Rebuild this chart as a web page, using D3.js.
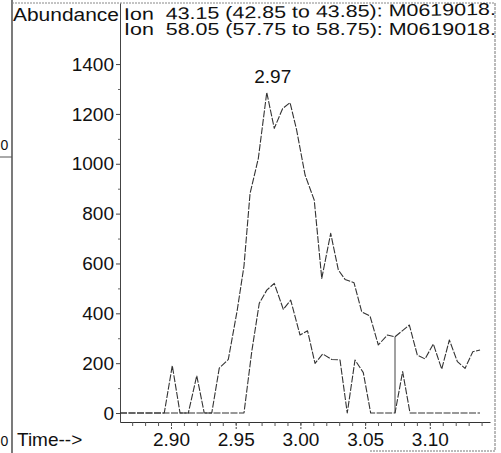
<!DOCTYPE html>
<html>
<head>
<meta charset="utf-8">
<script src="https://cdn.jsdelivr.net/npm/d3@7"></script>
<style>
  html, body { margin: 0; padding: 0; background: #fff; }
  svg { display: block; font-family: "Liberation Sans", Arial, sans-serif; }
  text { white-space: pre; fill: #111; }
</style>
</head>
<body>
<svg id="chart" width="501" height="453"></svg>
<script>
// ---------- data ----------
const seriesNames = ["Ion  43.15 (42.85 to 43.85): M0619018.", "Ion  58.05 (57.75 to 58.75): M0619018."];

const timesA = [2.8606, 2.8948, 2.9010, 2.9070, 2.9134, 2.9199, 2.9257, 2.9315, 2.9373, 2.9443,
                2.9512, 2.9564, 2.9611, 2.9675, 2.9740, 2.9798, 2.9863, 2.9920, 2.9971, 3.0036,
                3.0107, 3.0165, 3.0234, 3.0293, 3.0345, 3.0414, 3.0474, 3.0538, 3.0602, 3.0672,
                3.0731, 3.0842, 3.0903, 3.0963, 3.1027, 3.1092, 3.1151, 3.1213, 3.1272, 3.1332, 3.1388];
const valuesA = [0, 0, 190, 0, 0, 150, 0, 0, 180, 215,
                 413, 590, 881, 1022, 1286, 1142, 1222, 1245, 1135, 955,
                 854, 540, 721, 574, 536, 523, 406, 389, 273, 313,
                 306, 353, 233, 217, 277, 176, 293, 206, 179, 246, 253];

const timesB = [2.8606, 2.9564, 2.9625, 2.9682, 2.9740, 2.9798, 2.9868, 2.9925, 2.9997, 3.0055,
                3.0113, 3.0172, 3.0241, 3.0306, 3.0362, 3.0422, 3.0486, 3.0543, 3.0731, 3.0790,
                3.0847, 3.1388];
const valuesB = [0, 0, 250, 440, 493, 520, 416, 453, 313, 330,
                 199, 237, 215, 213, 0, 213, 162, 0, 0, 166,
                 0, 0];

const markerTimes = [3.0731];
const markerValues = [306];

const yTicks = [0, 200, 400, 600, 800, 1000, 1200, 1400];
const yMinorTicks = d3.range(100, 1500, 200);
const xTicks = [2.90, 2.95, 3.00, 3.05, 3.10];
const xMinorTicks = d3.range(2.87, 3.145, 0.01).map(v => +v.toFixed(2));
const peakTime = 2.9740, peakValue = 1286;

// ---------- scales ----------
const svg = d3.select("#chart");
const x = d3.scaleLinear().domain([2.8606, 3.1465]).range([120, 490]);
const y = d3.scaleLinear().domain([-36, 1645]).range([422, 3]);

// ---------- frame (scan border) ----------
svg.append("rect").attr("width", 501).attr("height", 453).attr("fill", "#fff");
svg.append("line").attr("x1", 12).attr("x2", 12).attr("y1", 0).attr("y2", 453)
   .attr("stroke", "#222").attr("stroke-width", 1.2);
svg.append("line").attr("x1", 12).attr("x2", 495).attr("y1", 3).attr("y2", 3)
   .attr("stroke", "#888").attr("stroke-width", 1).attr("stroke-dasharray", "2,1");
svg.append("line").attr("x1", 495).attr("x2", 495).attr("y1", 3).attr("y2", 451)
   .attr("stroke", "#777").attr("stroke-width", 1).attr("stroke-dasharray", "3,1");
svg.append("line").attr("x1", 370).attr("x2", 495).attr("y1", 451).attr("y2", 451)
   .attr("stroke", "#777").attr("stroke-width", 1).attr("stroke-dasharray", "2,1");
svg.append("line").attr("x1", 0).attr("x2", 12).attr("y1", 157).attr("y2", 157)
   .attr("stroke", "#555").attr("stroke-width", 1);
svg.append("text").attr("x", 0.5).attr("y", 150).attr("font-size", 14).text("0");
svg.append("text").attr("x", 0.5).attr("y", 446).attr("font-size", 14).text("0");

// ---------- axes ----------
const yAxis = svg.append("g").attr("transform", "translate(120,0)")
  .call(d3.axisLeft(y).tickValues(yTicks).tickSize(4).tickSizeOuter(0).tickPadding(2)
        .tickFormat(d3.format("d")));
yAxis.select(".domain").attr("stroke", "#444").attr("stroke-width", 1);
yAxis.selectAll(".tick line").attr("stroke", "#444");
yAxis.selectAll("text").attr("font-size", 19).attr("fill", "#111")
  .attr("font-family", "Liberation Sans, Arial, sans-serif");
svg.append("g").attr("transform", "translate(120,0)")
  .call(d3.axisLeft(y).tickValues(yMinorTicks).tickSize(2).tickFormat(""))
  .call(g => g.select(".domain").remove())
  .selectAll("line").attr("stroke", "#666");

const xAxis = svg.append("g").attr("transform", `translate(0,${y(-36)})`)
  .call(d3.axisBottom(x).tickValues(xTicks).tickSize(7).tickSizeOuter(0).tickPadding(4)
        .tickFormat(d3.format(".2f")));
xAxis.select(".domain").attr("stroke", "#333").attr("stroke-width", 1.2);
xAxis.selectAll(".tick line").attr("stroke", "#444").attr("stroke-dasharray", "3,2");
xAxis.selectAll("text").attr("font-size", 19).attr("fill", "#111")
  .attr("font-family", "Liberation Sans, Arial, sans-serif");
svg.append("g").attr("transform", `translate(0,${y(-36)})`)
  .call(d3.axisBottom(x).tickValues(xMinorTicks).tickSize(4).tickFormat(""))
  .call(g => g.select(".domain").remove())
  .selectAll("line").attr("stroke", "#555");

// ---------- header texts ----------
svg.append("text").attr("x", 13).attr("y", 20.5).attr("font-size", 17.5)
   .attr("textLength", 106).attr("lengthAdjust", "spacingAndGlyphs").text("Abundance");
svg.append("text").attr("x", 124).attr("y", 20).attr("font-size", 17)
   .attr("transform", "rotate(-0.8,124,20)")
   .attr("textLength", 372).attr("lengthAdjust", "spacingAndGlyphs").text(seriesNames[0]);
svg.append("text").attr("x", 124).attr("y", 34.5).attr("font-size", 17)
   .attr("textLength", 372).attr("lengthAdjust", "spacingAndGlyphs").text(seriesNames[1]);
svg.append("text").attr("x", 17).attr("y", 446).attr("font-size", 19).text("Time-->");

// ---------- series ----------
const line = d3.line().x(d => x(d[0])).y(d => y(d[1]));
const dataA = timesA.map((t, i) => [t, valuesA[i]]);
const dataB = timesB.map((t, i) => [t, valuesB[i]]);

[dataA, dataB].forEach(data => {
  svg.append("path").datum(data).attr("d", line)
     .attr("fill", "none").attr("stroke", "#333").attr("stroke-width", 1.1)
     .attr("stroke-dasharray", "7,1.5").attr("stroke-linejoin", "round");
});

svg.selectAll(".marker").data(markerTimes).enter().append("line")
   .attr("class", "marker")
   .attr("x1", d => x(d)).attr("x2", d => x(d))
   .attr("y1", y(0)).attr("y2", (d, i) => y(markerValues[i]))
   .attr("stroke", "#444").attr("stroke-width", 1);

// ---------- peak label ----------
svg.append("text").attr("x", x(peakTime) + 6).attr("y", y(peakValue) - 9)
   .attr("text-anchor", "middle").attr("font-size", 19)
   .text(d3.format(".2f")(peakTime));
</script>
</body>
</html>
